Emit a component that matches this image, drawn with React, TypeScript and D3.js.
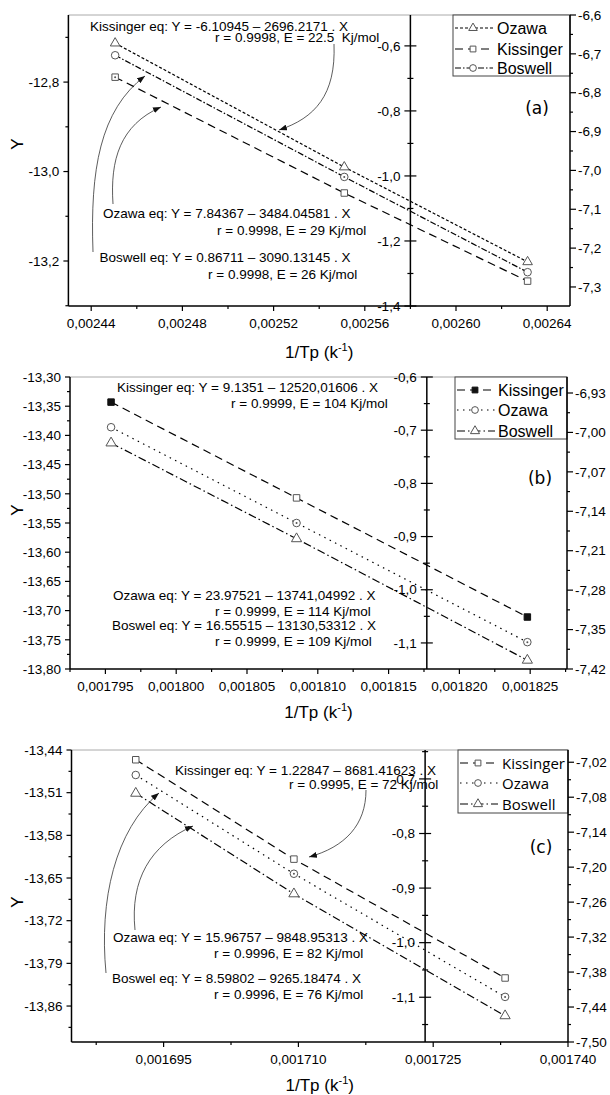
import React from 'react';
import * as d3 from 'd3';

// ---- panel (a) ----
const xA = [0.0024505, 0.002551, 0.0026314];
const ozawaA = [-12.713, -12.990, -13.202];
const kissingerA = [-12.789, -13.048, -13.245];
const boswellA = [-12.740, -13.012, -13.225];
const xTicksA = [0.00244, 0.00248, 0.00252, 0.00256, 0.0026, 0.00264];
const yTicksA = [-12.8, -13.0, -13.2];
const midTicksA = [-0.6, -0.8, -1.0, -1.2, -1.4];
const rightTicksA = [-6.6, -6.7, -6.8, -6.9, -7.0, -7.1, -7.2, -7.3];

// ---- panel (b) ----
const xB = [0.0017954, 0.0018085, 0.0018248];
const kissingerB = [-13.343, -13.507, -13.711];
const ozawaB = [-13.386, -13.550, -13.754];
const boswellB = [-13.413, -13.577, -13.785];
const xTicksB = [0.001795, 0.0018, 0.001805, 0.00181, 0.001815, 0.00182, 0.001825];
const yTicksB = [-13.3, -13.35, -13.4, -13.45, -13.5, -13.55, -13.6, -13.65, -13.7, -13.75, -13.8];
const midTicksB = [-0.6, -0.7, -0.8, -0.9, -1.0, -1.1];
const rightTicksB = [-6.93, -7.0, -7.07, -7.14, -7.21, -7.28, -7.35, -7.42];

// ---- panel (c) ----
const xC = [0.0016919, 0.0017095, 0.001733];
const kissingerC = [-13.456, -13.619, -13.814];
const ozawaC = [-13.481, -13.643, -13.845];
const boswellC = [-13.511, -13.676, -13.876];
const xTicksC = [0.001695, 0.00171, 0.001725, 0.00174];
const yTicksC = [-13.44, -13.51, -13.58, -13.65, -13.72, -13.79, -13.86];
const midTicksC = [-0.7, -0.8, -0.9, -1.0, -1.1];
const rightTicksC = [-7.02, -7.08, -7.14, -7.2, -7.26, -7.32, -7.38, -7.44, -7.5];

const loc = d3.formatLocale({ decimal: ',', thousands: '.', grouping: [3], currency: ['', ''], minus: '-' });
const fmt = (n) => loc.format('.' + n + 'f');

const FONT = '"Liberation Sans", Arial, sans-serif';
const DASH_LONG = '8,5';
const DASH_SHORT = '3,2';
const DASH_DOT = '6,2,1.5,2';
const DOTS = '1.5,4.5';
const DASH_DOT2 = '8,3,1.5,3';

function minorTicks(major, domain) {
  var step = major[1] - major[0], lo = Math.min(domain[0], domain[1]), hi = Math.max(domain[0], domain[1]), out = [];
  for (var k = -30; k < major.length + 30; k++) {
    var v = major[0] + step * (k + 0.5);
    if (v >= lo - 1e-12 && v <= hi + 1e-12) out.push(v);
  }
  return out;
}

function Marker({ s, x, y, i }) {
  var d = d3.symbol(s.symbol, s.size)();
  var filled = s.filled && s.filled[i];
  return (
    <g transform={'translate(' + x + ',' + y + ')'}>
      <path d={d} fill={filled ? '#111' : '#fff'} stroke={filled ? '#111' : '#555'} strokeWidth={1} />
      {s.dots && s.dots[i] ? <circle r={1} fill="#555" /> : null}
    </g>
  );
}

function Panel(p) {
  const { box } = p;
  const x = d3.scaleLinear().domain(p.xDomain).range([box.left, box.right]);
  const y = d3.scaleLinear().domain(p.yDomain).range([box.bottom, box.top]);
  const ym = d3.scaleLinear().domain(p.midDomain).range([box.bottom, box.top]);
  const yr = d3.scaleLinear().domain(p.rightDomain).range([box.bottom, box.top]);
  const mx = x(p.midX);
  const line = d3.line().x(d => x(d[0])).y(d => y(d[1]));
  const fx = fmt(p.xDigits), fy = fmt(p.yDigits), fm = fmt(p.midDigits), fr = fmt(p.rightDigits);
  const ax = { stroke: '#000', strokeWidth: 1.5 };
  const tk = { stroke: '#000', strokeWidth: 1.2 };
  const lg = p.legend;

  return (
    <g fontFamily={FONT}>
      {/* top frame */}
      <line x1={box.left} x2={box.right} y1={box.top} y2={box.top} stroke="#aaa" strokeWidth={1} />

      {/* series */}
      {p.series.map(s => (
        <path key={s.name + 'l'} d={line(s.xs.map((v, i) => [v, s.ys[i]]))} fill="none" stroke="#000" strokeWidth={1.2} strokeDasharray={s.dash} />
      ))}
      {p.series.map(s => s.xs.map((v, i) => (
        <Marker key={s.name + i} s={s} x={x(v)} y={y(s.ys[i])} i={i} />
      )))}

      {/* annotations */}
      {p.notes.map((n, i) => (
        <text key={'n' + i} x={n[1]} y={n[2] + 4.7} fontSize={13.5} style={{ whiteSpace: 'pre' }}>{n[0]}</text>
      ))}
      {p.arrows.map((a, i) => (
        <path key={'a' + i} d={a} fill="none" stroke="#333" strokeWidth={0.8} markerEnd="url(#arrow)" />
      ))}

      {/* legend */}
      <rect x={lg.x0} y={lg.y0} width={lg.x1 - lg.x0} height={lg.y1 - lg.y0} fill="#fff" stroke="#444" strokeWidth={1} />
      {lg.order.map((s, i) => (
        <g key={'lg' + i}>
          <line x1={lg.x0 + 2} x2={lg.symX + 20} y1={lg.rows[i]} y2={lg.rows[i]} stroke="#000" strokeWidth={1.2} strokeDasharray={s.dash} />
          <g transform={'translate(' + lg.symX + ',' + lg.rows[i] + ')'}>
            <path d={d3.symbol(s.symbol, s.size * 0.8)()} fill={s.legendFill ? '#111' : '#fff'} stroke={s.legendFill ? '#111' : '#555'} />
          </g>
          <text x={lg.textX} y={lg.rows[i] + 5.6} fontSize={lg.fontSize} fontFamily={lg.font || FONT}>{s.name}</text>
        </g>
      ))}

      {/* left axis */}
      <line x1={box.left} x2={box.left} y1={box.top} y2={box.bottom} {...ax} />
      {p.yTicks.map(t => (
        <g key={'yl' + t}>
          <line x1={box.left - 5} x2={box.left} y1={y(t)} y2={y(t)} {...tk} />
          <text x={box.left - 9} y={y(t) + 4.7} fontSize={13.5} textAnchor="end">{fy(t)}</text>
        </g>
      ))}
      {minorTicks(p.yTicks, p.yDomain).map(t => (
        <line key={'ym' + t} x1={box.left - 3} x2={box.left} y1={y(t)} y2={y(t)} {...tk} />
      ))}

      {/* middle axis */}
      <line x1={mx} x2={mx} y1={box.top} y2={box.bottom} {...ax} />
      {p.midTicks.map(t => (
        <g key={'mm' + t}>
          <line x1={mx - 6} x2={mx + 6} y1={ym(t)} y2={ym(t)} {...tk} />
          <text x={mx - 10} y={ym(t) + 4.7} fontSize={13.5} textAnchor="end">{fm(t)}</text>
        </g>
      ))}
      {minorTicks(p.midTicks, p.midDomain).map(t => (
        <line key={'mn' + t} x1={mx - 3} x2={mx + 3} y1={ym(t)} y2={ym(t)} {...tk} />
      ))}

      {/* right axis */}
      <line x1={box.right} x2={box.right} y1={box.top} y2={box.bottom} {...ax} />
      {p.rightTicks.map(t => (
        <g key={'rr' + t}>
          <line x1={box.right} x2={box.right + 6} y1={yr(t)} y2={yr(t)} {...tk} />
          <text x={box.right + 8} y={yr(t) + 4.7} fontSize={13.5}>{fr(t)}</text>
        </g>
      ))}
      {minorTicks(p.rightTicks, p.rightDomain).map(t => (
        <line key={'rn' + t} x1={box.right} x2={box.right + 3} y1={yr(t)} y2={yr(t)} {...tk} />
      ))}

      {/* bottom axis */}
      <line x1={box.left} x2={box.right} y1={box.bottom} y2={box.bottom} {...ax} />
      {p.xTicks.map(t => (
        <g key={'xx' + t}>
          <line x1={x(t)} x2={x(t)} y1={box.bottom} y2={box.bottom + 5} {...tk} />
          <text x={x(t)} y={box.bottom + 22} fontSize={13.5} textAnchor="middle">{fx(t)}</text>
        </g>
      ))}
      {minorTicks(p.xTicks, p.xDomain).map(t => (
        <line key={'xn' + t} x1={x(t)} x2={x(t)} y1={box.bottom} y2={box.bottom + 3} {...tk} />
      ))}

      {/* titles */}
      <text x={(box.left + box.right) / 2} y={p.xTitleY + 6} fontSize={17} textAnchor="middle">
        <tspan>1/Tp (k</tspan><tspan dy={-7} fontSize={11}>-1</tspan><tspan dy={7}>)</tspan>
      </text>
      <text transform={'translate(' + 23 + ',' + p.yLabelY + ') rotate(-90)'} fontSize={17} textAnchor="middle">Y</text>
      <text x={p.tag[1]} y={p.tag[2] + 6} fontSize={17} fontFamily='"DejaVu Sans", sans-serif' textAnchor="middle">{p.tag[0]}</text>
    </g>
  );
}

export default function App() {
  const sA = {
    oz: { name: 'Ozawa', xs: xA, ys: ozawaA, symbol: d3.symbolTriangle, size: 40, dash: DASH_SHORT },
    ki: { name: 'Kissinger', xs: xA, ys: kissingerA, symbol: d3.symbolSquare, size: 42, dash: DASH_LONG, dots: [true, false, false] },
    bo: { name: 'Boswell', xs: xA, ys: boswellA, symbol: d3.symbolCircle, size: 45, dash: DASH_DOT, dots: [false, true, false] },
  };
  const sB = {
    ki: { name: 'Kissinger', xs: xB, ys: kissingerB, symbol: d3.symbolSquare, size: 42, dash: DASH_LONG, filled: [true, false, true], legendFill: true },
    oz: { name: 'Ozawa', xs: xB, ys: ozawaB, symbol: d3.symbolCircle, size: 45, dash: DOTS, dots: [false, true, true] },
    bo: { name: 'Boswell', xs: xB, ys: boswellB, symbol: d3.symbolTriangle, size: 45, dash: DASH_DOT2 },
  };
  const sC = {
    ki: { name: 'Kissinger', xs: xC, ys: kissingerC, symbol: d3.symbolSquare, size: 42, dash: DASH_LONG },
    oz: { name: 'Ozawa', xs: xC, ys: ozawaC, symbol: d3.symbolCircle, size: 45, dash: DOTS, dots: [false, true, true] },
    bo: { name: 'Boswell', xs: xC, ys: boswellC, symbol: d3.symbolTriangle, size: 45, dash: DASH_DOT2 },
  };

  return (
    <svg width={610} height={1095} style={{ position: 'absolute', left: 0, top: 0, background: '#fff' }}>
      <defs>
        <marker id="arrow" viewBox="0 0 8 6" refX={8} refY={3} markerWidth={8} markerHeight={6} markerUnits="userSpaceOnUse" orient="auto">
          <path d="M0,0 L8,3 L0,6 z" fill="#111" />
        </marker>
      </defs>
      <rect width={610} height={1095} fill="#fff" />

      <Panel
        box={{ left: 68.4, right: 570, top: 15, bottom: 306 }}
        xDomain={[0.00243, 0.00265]} yDomain={[-13.3006, -12.65]}
        midX={0.00258} midDomain={[-1.4, -0.505]} rightDomain={[-7.349, -6.6]}
        xTicks={xTicksA} yTicks={yTicksA} midTicks={midTicksA} rightTicks={rightTicksA}
        xDigits={5} yDigits={1} midDigits={1} rightDigits={1}
        series={[sA.oz, sA.bo, sA.ki]}
        legend={{ x0: 453, x1: 570, y0: 15, y1: 76, rows: [28, 49, 68], symX: 473, textX: 497, fontSize: 16, order: [sA.oz, sA.ki, sA.bo] }}
        notes={[
          ['Kissinger eq: Y = -6.10945 – 2696.2171 . X', 90, 26],
          ['r = 0.9998, E = 22.5  Kj/mol', 215, 37],
          ['Ozawa eq: Y = 7.84367 – 3484.04581 . X', 103, 213],
          ['r = 0.9998, E = 29 Kj/mol', 217, 230],
          ['Boswell eq: Y = 0.86711 – 3090.13145 . X', 99.5, 257],
          ['r = 0.9998, E = 26 Kj/mol', 208, 274],
        ]}
        arrows={[
          'M334,44 C336,95 315,118 279,130',
          'M93,252 C90,170 100,110 145,76',
          'M113,204 C110,160 120,125 161,107',
        ]}
        tag={['(a)', 537, 108]}
        xTitleY={352} yLabelY={144}
      />

      <Panel
        box={{ left: 70, right: 567, top: 377, bottom: 669 }}
        xDomain={[0.0017925, 0.0018276]} yDomain={[-13.8, -13.3]}
        midX={0.0018177} midDomain={[-1.149, -0.6]} rightDomain={[-7.42, -6.9016]}
        xTicks={xTicksB} yTicks={yTicksB} midTicks={midTicksB} rightTicks={rightTicksB}
        xDigits={6} yDigits={2} midDigits={1} rightDigits={2}
        series={[sB.ki, sB.oz, sB.bo]}
        legend={{ x0: 455, x1: 567, y0: 377, y1: 439, rows: [390, 410, 431], symX: 475, textX: 498, fontSize: 16, order: [sB.ki, sB.oz, sB.bo] }}
        notes={[
          ['Kissinger eq: Y = 9.1351 – 12520,01606 . X', 117, 387],
          ['r = 0.9999, E = 104 Kj/mol', 231, 403],
          ['Ozawa eq: Y = 23.97521 – 13741,04992 . X', 113, 595],
          ['r = 0.9999, E = 114 Kj/mol', 215, 611],
          ['Boswel eq: Y = 16.55515 – 13130,53312 . X', 112, 625],
          ['r = 0.9999, E = 109 Kj/mol', 215, 641],
        ]}
        arrows={[]}
        tag={['(b)', 540, 478]}
        xTitleY={712} yLabelY={510}
      />

      <Panel
        box={{ left: 71.5, right: 568, top: 750, bottom: 1042 }}
        xDomain={[0.00168475, 0.00174]} yDomain={[-13.919, -13.44]}
        midX={0.0017241} midDomain={[-1.182, -0.647]} rightDomain={[-7.5, -6.999]}
        xTicks={xTicksC} yTicks={yTicksC} midTicks={midTicksC} rightTicks={rightTicksC}
        xDigits={6} yDigits={2} midDigits={1} rightDigits={2}
        series={[sC.ki, sC.oz, sC.bo]}
        legend={{ x0: 458, x1: 568, y0: 750, y1: 813, rows: [763, 783, 804], symX: 478, textX: 502, fontSize: 15, font: '"Open Sans", sans-serif', order: [sC.ki, sC.oz, sC.bo] }}
        notes={[
          ['Kissinger eq: Y = 1.22847 – 8681.41623 . X', 175, 770],
          ['r = 0.9995, E = 72 Kj/mol', 289, 784],
          ['Ozawa eq: Y = 15.96757 – 9848.95313 . X', 113, 937],
          ['r = 0.9996, E = 82 Kj/mol', 214, 953],
          ['Boswel eq: Y = 8.59802 – 9265.18474 . X', 112, 978],
          ['r = 0.9996, E = 76 Kj/mol', 214, 994],
        ]}
        arrows={[
          'M366,790 C366,825 345,847 309,857',
          'M106,973 C99,900 115,830 159,793',
          'M135,930 C130,880 150,845 193,826',
        ]}
        tag={['(c)', 541, 847]}
        xTitleY={1085} yLabelY={902}
      />
    </svg>
  );
}
